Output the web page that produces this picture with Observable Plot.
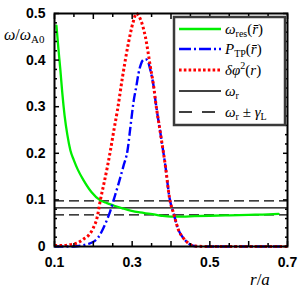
<!DOCTYPE html>
<html><head><meta charset="utf-8">
<script src="https://cdn.jsdelivr.net/npm/d3@7"></script>
<script src="https://cdn.jsdelivr.net/npm/@observablehq/plot@0.6"></script>
<style>body{margin:0;background:#fff}</style>
</head><body><div id="chart"></div>
<script>
// omega_res(r̄)
const rRes = [0.105,0.110,0.115,0.120,0.126,0.133,0.141,0.150,0.160,0.175,0.195,0.218,0.235,0.252,0.275,0.296,0.320,0.347,0.375,0.400,0.430,0.460,0.500,0.550,0.600,0.650,0.677];
const wRes = [0.474,0.425,0.380,0.330,0.281,0.240,0.206,0.185,0.165,0.142,0.117,0.099,0.093,0.088,0.082,0.077,0.073,0.070,0.066,0.064,0.064,0.065,0.066,0.067,0.068,0.069,0.070];
// P_TP(r̄)
const rTP = [0.100,0.150,0.170,0.185,0.198,0.213,0.231,0.244,0.252,0.265,0.278,0.288,0.296,0.304,0.311,0.316,0.322,0.328,0.334,0.339,0.345,0.350,0.356,0.360,0.373,0.386,0.396,0.407,0.420,0.432,0.442,0.452,0.460,0.500,0.550,0.600,0.650,0.700];
const pTP = [0.000,0.000,0.002,0.005,0.009,0.020,0.049,0.077,0.099,0.135,0.174,0.206,0.260,0.313,0.345,0.370,0.390,0.400,0.402,0.400,0.385,0.367,0.340,0.313,0.242,0.170,0.105,0.070,0.034,0.018,0.009,0.003,0.001,0.000,0.000,0.000,0.000,0.000];
// delta phi^2(r)
const rPhi = [0.100,0.120,0.140,0.160,0.175,0.190,0.200,0.210,0.218,0.227,0.236,0.244,0.253,0.262,0.275,0.290,0.302,0.311,0.320,0.334,0.347,0.356,0.360,0.373,0.386,0.396,0.407,0.420,0.432,0.442,0.452,0.460,0.500,0.550,0.600,0.650,0.700];
const phi2 = [0.002,0.002,0.004,0.008,0.016,0.026,0.040,0.063,0.099,0.134,0.170,0.206,0.250,0.292,0.363,0.435,0.480,0.500,0.490,0.450,0.385,0.340,0.313,0.242,0.170,0.105,0.070,0.034,0.018,0.009,0.003,0.001,0.000,0.000,0.000,0.000,0.000];
// omega_r and omega_r ± gamma_L
const omegaR = [0.083];
const omegaBand = [0.068, 0.098];
// ticks
const xMajor = [0.1,0.2,0.3,0.4,0.5,0.6,0.7];
const xMinor = [0.15,0.25,0.35,0.45,0.55,0.65];
const xLabels = [0.1,0.3,0.5,0.7];
const yMajor = [0,0.1,0.2,0.3,0.4,0.5];
const yMinor = [0.02,0.04,0.06,0.08,0.12,0.14,0.16,0.18,0.22,0.24,0.26,0.28,0.32,0.34,0.36,0.38,0.42,0.44,0.46,0.48];

const resData = rRes.map((r,i)=>({r, v:wRes[i]}));
const tpData = rTP.map((r,i)=>({r, v:pTP[i]}));
const phiData = rPhi.map((r,i)=>({r, v:phi2[i]}));

const fmtY = d => d === 0 ? "0" : d.toFixed(1);
const blank = () => "";
const tk = (data, anchor, size, isX) => (isX ? Plot.axisX : Plot.axisY)(data, {anchor, tickSize: size, tickFormat: blank, strokeWidth: 1.5, label: null});

const plot = Plot.plot({
  width: 300, height: 300,
  marginLeft: 54, marginRight: 13, marginTop: 13, marginBottom: 54,
  style: {fontFamily: "Liberation Sans, Arial, sans-serif", fontSize: "14px", fontWeight: "bold", background: "white", overflow: "visible"},
  x: {domain: [0.1, 0.7]},
  y: {domain: [0, 0.5]},
  marks: [
    Plot.ruleY(omegaR, {stroke: "black", strokeWidth: 1.2}),
    Plot.ruleY(omegaBand, {stroke: "black", strokeWidth: 1.2, strokeDasharray: "10 5"}),
    Plot.line(resData, {x: "r", y: "v", stroke: "#00ee00", strokeWidth: 2.3, curve: "monotone-x"}),
    Plot.line(tpData, {x: "r", y: "v", stroke: "#0000ff", strokeWidth: 2.4, strokeDasharray: "9 3 2 3", strokeLinecap: "butt", curve: "monotone-x"}),
    Plot.line(phiData, {x: "r", y: "v", stroke: "#ff0000", strokeWidth: 3, strokeDasharray: "2.6 2.4", strokeLinecap: "butt", curve: "monotone-x"}),
    // labels
    Plot.axisX(xLabels, {anchor: "bottom", tickSize: 0, tickPadding: 11, tickFormat: d => d.toFixed(1), fontSize: 14, fontWeight: "bold", label: null}),
    Plot.axisY(yMajor, {anchor: "left", tickSize: 0, tickPadding: 9, tickFormat: fmtY, fontSize: 14, fontWeight: "bold", label: null}),
    // inward ticks
    tk(xMajor, "bottom", -5, true), tk(xMinor, "bottom", -3, true),
    tk(xMajor, "top", -5, true), tk(xMinor, "top", -3, true),
    tk(yMajor, "left", -5, false), tk(yMinor, "left", -3, false),
    tk(yMajor, "right", -5, false), tk(yMinor, "right", -3, false),
    Plot.frame({stroke: "black", strokeWidth: 2})
  ]
});
document.getElementById("chart").appendChild(plot);

const svg = d3.select(plot);
const serif = "Liberation Serif, DejaVu Serif, serif";

// axis titles
const yl = svg.append("text").attr("x", 4).attr("y", 40).attr("text-anchor", "start").attr("font-family", serif).attr("font-size", 16).attr("font-weight", "normal").attr("fill", "black");
yl.append("tspan").attr("font-style", "italic").text("ω");
yl.append("tspan").text("/");
yl.append("tspan").attr("font-style", "italic").text("ω");
yl.append("tspan").attr("font-size", 11).attr("dy", 3).text("A0");

const xl = svg.append("text").attr("x", 250).attr("y", 285).attr("text-anchor", "start").attr("font-family", serif).attr("font-size", 17).attr("font-weight", "normal").attr("fill", "black");
xl.append("tspan").attr("font-style", "italic").text("r");
xl.append("tspan").text("/");
xl.append("tspan").attr("font-style", "italic").text("a");

// legend
const lg = svg.append("g");
lg.append("rect").attr("x", 174).attr("y", 17).attr("width", 111).attr("height", 108)
  .attr("fill", "white").attr("stroke", "#3a3a3a").attr("stroke-width", 2.5);
const rows = [
  {y: 29, stroke: "#00ee00", w: 2.3, dash: null, parts: [["ω","i"],["res","sub"],["(",""],["r̄","i"],[")",""]]},
  {y: 49, stroke: "#0000ff", w: 2.4, dash: "12 3 2 3", parts: [["P","i"],["TP","sub"],["(",""],["r̄","i"],[")",""]]},
  {y: 70, stroke: "#ff0000", w: 3, dash: "2.6 2.2", parts: [["δφ","i"],["2","sup"],["(",""],["r","i"],[")",""]]},
  {y: 91, stroke: "black", w: 1.3, dash: null, parts: [["ω","i"],["r","sub"]]},
  {y: 112, stroke: "black", w: 1.3, dash: "13 10", parts: [["ω","i"],["r","sub"],[" ± ",""],["γ","i"],["L","sub"]]}
];
rows.forEach(row => {
  lg.append("line").attr("x1", 179).attr("x2", 221).attr("y1", row.y).attr("y2", row.y)
    .attr("stroke", row.stroke).attr("stroke-width", row.w).attr("stroke-dasharray", row.dash);
  const t = lg.append("text").attr("x", 225).attr("y", row.y + 5).attr("text-anchor", "start").attr("font-family", serif)
    .attr("font-size", 15).attr("font-weight", "normal").attr("fill", "black");
  let shift = 0;
  row.parts.forEach(([s, k]) => {
    const sp = t.append("tspan").text(s);
    let target = 0;
    if (k === "i") sp.attr("font-style", "italic");
    if (k === "sub") { sp.attr("font-size", 10); target = 3; }
    if (k === "sup") { sp.attr("font-size", 10); target = -6; }
    sp.attr("dy", target - shift);
    shift = target;
  });
});
</script>
</body></html>
